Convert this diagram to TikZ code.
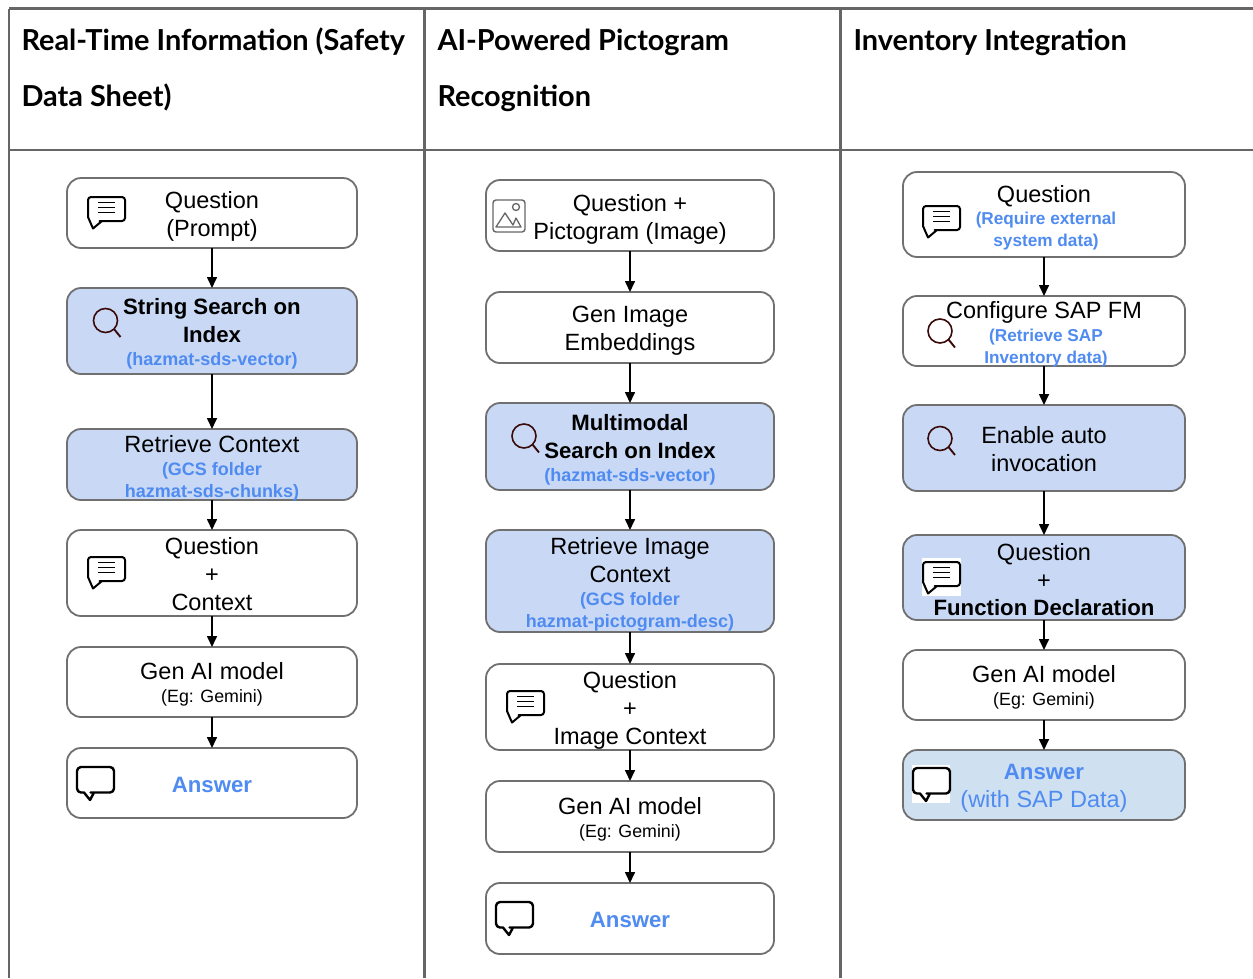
\documentclass[tikz,border=0pt]{standalone}
\usepackage{fontspec}
\setmainfont{Liberation Sans}
\newfontfamily\headfont{Lato}
\usetikzlibrary{arrows.meta}
\definecolor{rule}{HTML}{666666}
\definecolor{edge}{HTML}{707070}
\definecolor{paleblue}{HTML}{C9D9F5}
\definecolor{paleanswer}{HTML}{CFE0F1}
\definecolor{inkblue}{HTML}{4F8BF0}
\definecolor{lens}{HTML}{3A0A0A}
\newcommand{\bl}[1]{{\fontsize{18}{22}\selectfont\bfseries\color{inkblue}#1}}
\newcommand{\blc}[1]{{\fontsize{17.2}{22}\selectfont\bfseries\color{inkblue}\hspace*{4pt}#1}}
\newcommand{\sm}[1]{{\fontsize{17.8}{22}\selectfont #1}}
\newcommand{\bd}[1]{{\fontsize{22.2}{28}\selectfont\bfseries #1}}
\newcommand{\dn}[1]{\rule{0pt}{#1pt}}
\newcommand{\nodepth}[1]{\raisebox{0pt}[0pt][0pt]{#1}}
\tikzset{
  x=1pt,y=-1pt,
  tablerule/.style={draw=rule,line width=2.4pt},
  headtext/.style={anchor=north west,align=left,inner sep=0pt,outer sep=0pt,text=black,
    font=\headfont\bfseries\fontsize{28.9}{56}\selectfont},
  flowbox/.style={draw=edge,line width=1.8pt,rounded corners=14pt,fill=white,align=center,
    inner sep=0pt,outer sep=0pt,font=\fontsize{23.5}{28}\selectfont},
  wbox/.style={flowbox,minimum width=290pt},
  mbox/.style={flowbox,minimum width=288pt},
  ebox/.style={flowbox,minimum width=282pt},
  hit/.style={fill=paleblue},
  arr/.style={draw=black,line width=1.6pt,-{Triangle[length=11pt,width=10pt]}},
  patch/.style={fill=white,draw=none},
  chaticon/.pic={
    \draw[black,line width=2pt,line join=round,rounded corners=3pt]
      (0,12) -- (0,1) -- (37,1) -- (37,25) -- (14.5,25) [sharp corners] -- (14,25) -- (5,32.5) -- (0,21) -- cycle;
    \draw[black,line width=1.5pt] (10,6.5)--(27,6.5) (10,11.5)--(27,11.5) (10,16.5)--(27,16.5);
  },
  answericon/.pic={
    \draw[black,line width=2.4pt,line join=round,rounded corners=4pt]
      (18,0) -- (37,0) -- (37,25.5) -- (17.5,25.5) [sharp corners] -- (17,25.5) -- (13,33) -- (7,25.5) [rounded corners=4pt] -- (0,25.5) -- (0,0) -- cycle;
  },
  searchicon/.pic={
    \draw[lens,line width=1.6pt] (0,0) circle[radius=12];
    \draw[lens,line width=1.9pt] (8.5,8.5) -- (15,16.5);
  },
  imageicon/.pic={
    \draw[rule,line width=1.4pt,rounded corners=3pt] (0,0) rectangle (32,32);
    \draw[rule,line width=1.3pt,line join=round] (3,27) -- (12,13) -- (20,25) -- (23,18) -- (28,27) -- cycle;
    \draw[rule,line width=1.3pt] (23,7) circle[radius=3.5];
  },
}
\begin{document}
\begin{tikzpicture}
\useasboundingbox (0,0) rectangle (1253,978);
\fill[white] (0,0) rectangle (1253,978);
% table
\coordinate (tl) at (9,8.5); \coordinate (tr) at (1253,8.5);
\coordinate (ml) at (9,150); \coordinate (mr) at (1253,150);
\coordinate (c1t) at (424.5,8.5); \coordinate (c1b) at (424.5,978);
\coordinate (c2t) at (840.5,8.5); \coordinate (c2b) at (840.5,978);
\coordinate (bl) at (9,978);
\draw[tablerule] (tl)--(tr) (ml)--(mr) (tl)--(bl) (c1t)--(c1b) (c2t)--(c2b);
\node[headtext] (h1) at (21.5,27.5) {Real-Time Information (Safety\\Data Sheet)};
\node[headtext] (h2) at (437.5,29.5) {AI-Powered Pictogram\\Recognition};
\node[headtext] (h3) at (853.5,29.5) {Inventory Integration};
% column 1
\node[wbox,minimum height=70pt] (a1) at (212,213) {\dn{23}Question\\(Prompt)};
\node[wbox,hit,minimum height=86pt] (a2) at (212,331) {\dn{22.5}\bd{String Search on}\\\bd{Index}\\[-5pt]\bl{(hazmat-sds-vector)}};
\node[wbox,hit,minimum height=71pt] (a3) at (212,464.5) {\dn{21.5}Retrieve Context\\[-5pt]\bl{(GCS folder}\\[-6pt]\nodepth{\bl{hazmat-sds-chunks)}}};
\node[wbox,minimum height=86pt] (a4) at (212,573) {\dn{19}Question\\+\\Context};
\node[wbox,minimum height=70pt] (a5) at (212,682) {\dn{21}Gen AI model\\[-5pt]\sm{(Eg: Gemini)}};
\node[wbox,minimum height=70pt] (a6) at (212,783) {\dn{20}\bd{\color{inkblue}Answer}};
\draw[arr] (a1)--(a2); \draw[arr] (a2)--(a3); \draw[arr] (a3)--(a4); \draw[arr] (a4)--(a5); \draw[arr] (a5)--(a6);
\pic at (88,196) {chaticon};
\pic at (105.5,320.5) {searchicon};
\pic at (88,556) {chaticon};
\pic at (77,767) {answericon};
% column 2
\node[mbox,minimum height=71pt] (b1) at (630,215.5) {\dn{24}Question +\\Pictogram (Image)};
\node[mbox,minimum height=71pt] (b2) at (630,327.5) {\dn{23}Gen Image\\Embeddings};
\node[mbox,hit,minimum height=87pt] (b3) at (630,446.5) {\dn{22.5}\bd{Multimodal}\\\bd{Search on Index}\\[-5pt]\bl{(hazmat-sds-vector)}};
\node[mbox,hit,minimum height=102pt] (b4) at (630,581) {\dn{23}Retrieve Image\\Context\\[-5pt]\bl{(GCS folder}\\[-6pt]\bl{hazmat-pictogram-desc)}};
\node[mbox,minimum height=86pt] (b5) at (630,707) {\dn{23}Question\\+\\Image Context};
\node[mbox,minimum height=71pt] (b6) at (630,816.5) {\dn{23}Gen AI model\\[-5pt]\sm{(Eg: Gemini)}};
\node[mbox,minimum height=71pt] (b7) at (630,918.5) {\dn{19}\bd{\color{inkblue}Answer}};
\draw[arr] (b1)--(b2); \draw[arr] (b2)--(b3); \draw[arr] (b3)--(b4); \draw[arr] (b4)--(b5); \draw[arr] (b5)--(b6); \draw[arr] (b6)--(b7);
\pic at (493,200) {imageicon};
\pic at (524,436) {searchicon};
\pic at (507,690) {chaticon};
\pic at (496,902) {answericon};
% column 3
\node[ebox,minimum height=85pt] (c1) at (1044,214.5) {\dn{24}Question\\[-6pt]\blc{(Require external}\\[-6pt]\blc{system data)}};
\node[ebox,minimum height=70pt] (c2) at (1044,331) {\dn{19}Configure SAP FM\\[-5pt]\blc{(Retrieve SAP}\\[-6pt]\nodepth{\blc{Inventory data)}}};
\node[ebox,hit,minimum height=86pt] (c3) at (1044,448) {\dn{19}Enable auto\\invocation};
\node[ebox,hit,minimum height=85pt] (c4) at (1044,577.5) {\dn{21}Question\\+\\[-1.5pt]\bd{Function Declaration}};
\node[ebox,minimum height=70pt] (c5) at (1044,685) {\dn{21}Gen AI model\\[-5pt]\sm{(Eg: Gemini)}};
\node[ebox,fill=paleanswer,minimum height=70pt] (c6) at (1044,785) {\dn{22}\bd{\color{inkblue}Answer}\\{\color{inkblue}(with SAP Data)}};
\draw[arr] (c1)--(c2); \draw[arr] (c2)--(c3); \draw[arr] (c3)--(c4); \draw[arr] (c4)--(c5); \draw[arr] (c5)--(c6);
\pic at (923,205) {chaticon};
\pic at (940,331) {searchicon};
\pic at (940,438.5) {searchicon};
\fill[patch] (922,558) rectangle (961,596);
\pic at (923,561) {chaticon};
\fill[patch] (912,765) rectangle (950,803);
\pic at (913,768) {answericon};
\end{tikzpicture}
\end{document}
